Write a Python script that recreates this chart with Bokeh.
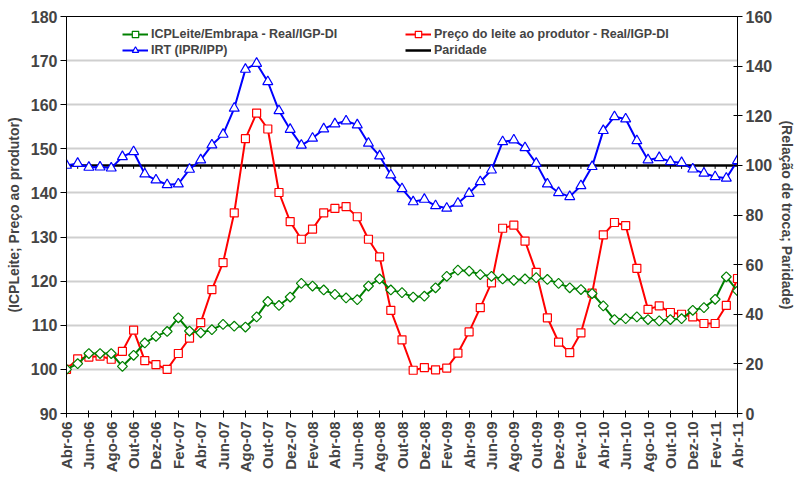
import math
from bokeh.plotting import figure
from bokeh.models import (Range1d, LinearAxis, FixedTicker, Legend, LegendItem,
                          ColumnDataSource)
from bokeh.embed import file_html
from bokeh.resources import INLINE

# ---------------- data ----------------
nomes_meses = ["Jan", "Fev", "Mar", "Abr", "Mai", "Jun", "Jul", "Ago", "Set", "Out", "Nov", "Dez"]
meses = []
for k in range(61):
    m = (3 + k) % 12
    a = 6 + (3 + k) // 12
    meses.append(f"{nomes_meses[m]}-{a:02d}")

icpleite = [100.0, 101.3, 103.6, 103.6, 103.6, 100.7, 103.2, 106.0, 107.5, 108.6,
            111.7, 108.7, 108.3, 109.0, 110.2, 109.8, 109.6, 111.9, 115.4, 114.5,
            116.4, 119.5, 118.9, 118.0, 117.0, 116.2, 115.8, 118.9, 120.5, 118.0,
            117.4, 116.4, 116.6, 118.5, 121.1, 122.5, 122.3, 121.5, 121.1, 120.5,
            120.2, 120.5, 120.8, 120.4, 119.5, 118.5, 118.1, 117.2, 114.4, 111.3,
            111.5, 111.9, 111.3, 111.0, 111.3, 111.5, 113.4, 114.0, 115.9, 121.0,
            117.8]

preco = [100.0, 102.4, 102.8, 103.0, 102.3, 104.1, 108.9, 102.0, 101.1, 100.0,
         103.6, 107.1, 110.6, 118.1, 124.2, 135.5, 152.3, 158.1, 154.5, 140.1,
         133.5, 129.5, 131.8, 135.5, 136.5, 136.9, 134.6, 129.5, 125.5, 113.4,
         106.7, 99.8, 100.4, 99.9, 100.3, 103.7, 108.5, 114.0, 119.6, 132.0,
         132.7, 129.1, 122.0, 111.7, 106.2, 103.8, 108.3, 117.3, 130.5, 133.3,
         132.6, 122.9, 113.6, 114.4, 112.9, 112.5, 111.9, 110.4, 110.4, 114.5,
         120.6]

irt = [100.0, 100.8, 99.2, 99.3, 98.9, 103.5, 105.5, 96.5, 94.1, 92.2,
       92.5, 98.4, 102.2, 108.2, 112.5, 123.0, 138.7, 141.1, 133.7, 122.0,
       114.5, 108.1, 110.9, 114.7, 116.7, 117.9, 116.3, 108.9, 103.8, 96.1,
       90.6, 85.3, 86.3, 83.7, 82.7, 84.7, 88.7, 93.4, 98.1, 109.5,
       110.2, 107.1, 100.8, 92.5, 89.0, 87.4, 91.8, 99.5, 114.0, 119.6,
       118.7, 109.9, 102.2, 103.1, 101.5, 101.1, 98.5, 96.8, 95.4, 94.8,
       101.9]

paridade_valor = 100

eixo_esq_ticks = [90, 100, 110, 120, 130, 140, 150, 160, 170, 180]
eixo_dir_ticks = [0, 20, 40, 60, 80, 100, 120, 140, 160]

x = list(range(len(meses)))
src = ColumnDataSource(dict(x=x, icp=icpleite, preco=preco, irt=irt,
                            par=[paridade_valor] * len(x),
                            par_lo=[paridade_valor - 1.4] * len(x)))

FONT = "Liberation Sans"

p = figure(frame_width=671, frame_height=397,
           min_border_left=66, min_border_right=53, min_border_top=16, min_border_bottom=60,
           x_range=Range1d(0, len(meses) - 1), y_range=Range1d(90, 180),
           output_backend="svg", toolbar_location=None, tools="")
p.extra_y_ranges = {"dir": Range1d(0, 160)}

p.background_fill_color = "white"
p.border_fill_color = "white"
p.outline_line_color = "black"
p.outline_line_width = 1

p.xgrid.visible = False
p.ygrid.ticker = FixedTicker(ticks=eixo_esq_ticks)
p.ygrid.grid_line_color = "#cfcfcf"
p.ygrid.grid_line_width = 2

# left axis
ya = p.yaxis[0]
ya.ticker = FixedTicker(ticks=eixo_esq_ticks)
ya.axis_label = "(ICPLeite; Preço ao produtor)"
ya.axis_label_text_font = FONT
ya.axis_label_text_font_style = "bold"
ya.axis_label_text_font_size = "14px"
ya.axis_label_standoff = 6
ya.major_label_text_font = FONT
ya.major_label_text_font_style = "bold"
ya.major_label_text_font_size = "16px"
ya.major_label_standoff = 3
ya.major_tick_in = 0
ya.major_tick_out = 6
ya.minor_tick_line_color = None
ya.axis_line_color = "black"
ya.major_tick_line_color = "black"

# right axis
yr = LinearAxis(y_range_name="dir", ticker=FixedTicker(ticks=eixo_dir_ticks))
yr.axis_label = "(Relação de troca; Paridade)"
yr.axis_label_text_font = FONT
yr.axis_label_text_font_style = "bold"
yr.axis_label_text_font_size = "14px"
yr.axis_label_standoff = 4
yr.major_label_text_font = FONT
yr.major_label_text_font_style = "bold"
yr.major_label_text_font_size = "16px"
yr.major_label_standoff = 3
yr.major_tick_in = 4
yr.major_tick_out = 5
yr.minor_tick_line_color = None
yr.axis_line_color = "black"
yr.major_tick_line_color = "black"
p.add_layout(yr, "right")

# bottom axis
xa = p.xaxis[0]
xa.ticker = FixedTicker(ticks=x[::2])
xa.major_label_overrides = {i: meses[i] for i in x[::2]}
xa.major_label_orientation = math.pi / 2
xa.major_label_text_font = FONT
xa.major_label_text_font_style = "bold"
xa.major_label_text_font_size = "15px"
xa.major_label_standoff = 4
xa.major_tick_in = 3
xa.major_tick_out = 4
xa.minor_tick_line_color = None
xa.axis_line_color = "black"
xa.major_tick_line_color = "black"

# paridade line with small month ticks
r_par = p.line("x", "par", source=src, y_range_name="dir", line_color="black", line_width=2.5)
p.segment(x0="x", y0="par", x1="x", y1="par_lo", source=src, y_range_name="dir",
          line_color="black", line_width=1)

# series
r_red_l = p.line("x", "preco", source=src, line_color="#ff0000", line_width=2)
r_red_m = p.scatter("x", "preco", source=src, marker="square", size=8,
                    line_color="#ff0000", fill_color="white", line_width=1.2)

r_grn_l = p.line("x", "icp", source=src, line_color="#008000", line_width=2)
r_grn_m = p.scatter("x", "icp", source=src, marker="square", angle=math.pi / 4, size=7,
                    line_color="#008000", fill_color="white", line_width=1.2)

r_blu_l = p.line("x", "irt", source=src, y_range_name="dir", line_color="#0000ff", line_width=2)
r_blu_m = p.scatter("x", "irt", source=src, y_range_name="dir", marker="triangle", size=10,
                    line_color="#0000ff", fill_color="white", line_width=1.2)


def mk_legend(items, loc):
    lg = Legend(items=items, location=loc, orientation="vertical")
    lg.label_text_font = FONT
    lg.label_text_font_style = "bold"
    lg.label_text_font_size = "12.5px"
    lg.label_height = 16
    lg.glyph_height = 16
    lg.glyph_width = 26
    lg.label_standoff = 3
    lg.spacing = 0
    lg.padding = 0
    lg.margin = 0
    lg.border_line_alpha = 0
    lg.background_fill_alpha = 0
    return lg


lg1 = mk_legend([LegendItem(label="ICPLeite/Embrapa - Real/IGP-DI", renderers=[r_grn_l, r_grn_m]),
                 LegendItem(label="IRT (IPR/IPP)", renderers=[r_blu_l, r_blu_m])], (56, 355))
lg2 = mk_legend([LegendItem(label="Preço do leite ao produtor - Real/IGP-DI", renderers=[r_red_l, r_red_m]),
                 LegendItem(label="Paridade", renderers=[r_par])], (339, 355))
p.add_layout(lg1)
p.add_layout(lg2)

open("out.html", "w").write(file_html(p, INLINE))
